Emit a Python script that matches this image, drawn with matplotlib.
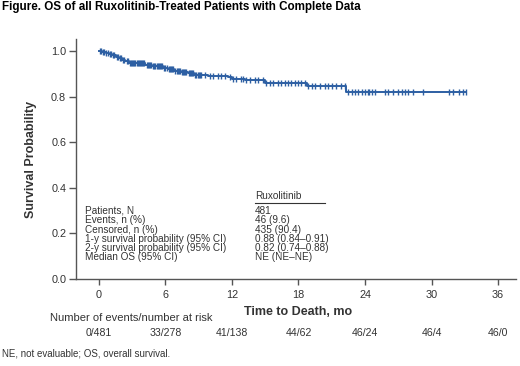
import numpy as np
import matplotlib
matplotlib.use('Agg')
from matplotlib import pyplot as plt
from matplotlib import transforms

plt.rcParams['font.family'] = ['Liberation Sans', 'DejaVu Sans']

# Kaplan-Meier curve (months, survival after each drop)
event_times = [0.3, 0.6, 0.9, 1.2, 1.5, 1.8, 2.1, 2.4, 2.7, 4.2, 4.8, 5.8, 6.2,
               6.8, 7.4, 8.0, 8.6, 9.8, 11.6, 12.0, 13.2, 15.0, 18.8, 22.3]
event_surv = [0.996, 0.992, 0.988, 0.981, 0.975, 0.969, 0.962, 0.955, 0.948,
              0.940, 0.933, 0.927, 0.920, 0.913, 0.907, 0.902, 0.897, 0.892,
              0.885, 0.878, 0.872, 0.860, 0.845, 0.822]
last_time = 33.1

censor_times = [0.1, 0.2, 0.35, 0.5, 0.65, 0.8, 1.0, 1.1, 1.3, 1.4, 1.6, 1.7,
                1.9, 2.0, 2.2, 2.3, 2.5, 2.6, 2.8, 2.9, 3.0, 3.1, 3.2, 3.3,
                3.4, 3.5, 3.6, 3.7, 3.8, 3.9, 4.0, 4.1, 4.3, 4.4, 4.5, 4.6,
                4.7, 4.9, 5.0, 5.1, 5.2, 5.3, 5.4, 5.5, 5.6, 5.7, 5.9, 6.0,
                6.1, 6.3, 6.4, 6.5, 6.6, 6.7, 6.9, 7.0, 7.1, 7.2, 7.3, 7.5,
                7.6, 7.7, 7.8, 7.9, 8.1, 8.2, 8.3, 8.4, 8.5, 8.7, 8.8, 8.9,
                9.0, 9.1, 9.25, 9.55, 10.0, 10.3, 10.75, 11.05, 11.35, 11.8,
                12.1, 12.4, 12.85, 13.0, 13.3, 13.6, 14.05, 14.35, 14.8, 15.1,
                15.4, 15.7, 16.15, 16.45, 16.75, 17.05, 17.35, 17.65, 17.95,
                18.25, 18.55, 18.9, 19.2, 19.5, 19.9, 20.4, 20.7, 21.0, 21.4,
                21.8, 22.2, 22.5, 22.8, 23.1, 23.4, 23.7, 24.0, 24.3, 24.4,
                24.6, 24.9, 25.8, 26.1, 26.5, 27.0, 27.3, 27.6, 27.9, 28.3,
                29.2, 31.6, 31.9, 32.5, 32.8, 33.1]

risk_months = [0, 6, 12, 18, 24, 30, 36]
risk_labels = ['0/481', '33/278', '41/138', '44/62', '46/24', '46/4', '46/0']

table_rows = ['Patients, N', 'Events, n (%)', 'Censored, n (%)',
              '1-y survival probability (95% CI)',
              '2-y survival probability (95% CI)', 'Median OS (95% CI)']
table_vals = ['481', '46 (9.6)', '435 (90.4)', '0.88 (0.84\u20130.91)',
              '0.82 (0.74\u20130.88)', 'NE (NE\u2013NE)']

blue = '#2d5fa3'
grey = '#555555'
txt = '#333333'

times = np.array([0] + event_times + [last_time])
levels = np.array([1.0] + event_surv + [event_surv[-1]])
idx = np.searchsorted(times, censor_times, side='right') - 1
censor_y = levels[np.clip(idx, 0, len(levels) - 1)]

fig = plt.figure(figsize=(5.2, 3.66), dpi=100)
ax = fig.add_axes([0.146, 0.2377, 0.846, 0.6557])

ax.step(times, levels, where='post', color=blue, lw=1.4)
ax.plot(censor_times, censor_y, ls='none', marker='|', ms=5, mew=1.0,
        color=blue)

ax.set_xlim(-2.07, 37.6)
ax.set_ylim(0, 1.053)
ax.set_xticks(risk_months)
ax.set_yticks([0.0, 0.2, 0.4, 0.6, 0.8, 1.0])
ax.set_yticklabels(['0.0', '0.2', '0.4', '0.6', '0.8', '1.0'])
for s in ['top', 'right']:
    ax.spines[s].set_visible(False)
for s in ['left', 'bottom']:
    ax.spines[s].set_color(grey)
    ax.spines[s].set_linewidth(1.0)
ax.tick_params(axis='both', colors=grey, labelcolor=txt, labelsize=7.8,
               direction='out', width=1.0)
ax.tick_params(axis='y', length=5, pad=2)
ax.tick_params(axis='x', length=4, pad=4)

ax.set_ylabel('Survival Probability', fontsize=9, fontweight='bold',
              color=txt, labelpad=10)

# summary table inside the plot
ax.text(0.407, 0.346, 'Ruxolitinib', transform=ax.transAxes, fontsize=7.2,
        color=txt, va='center')
ax.plot([0.407, 0.566], [0.317, 0.317], transform=ax.transAxes,
        color=txt, lw=0.8, clip_on=False)
row_y = [0.285, 0.246, 0.204, 0.165, 0.128, 0.090]
for lab, val, yy in zip(table_rows, table_vals, row_y):
    ax.text(0.0205, yy, lab, transform=ax.transAxes, fontsize=7.2,
            color=txt, va='center')
    ax.text(0.407, yy, val, transform=ax.transAxes, fontsize=7.2,
            color=txt, va='center')

fig.text(0.004, 0.997, 'Figure. OS of all Ruxolitinib-Treated Patients with Complete Data',
         fontsize=8.4, fontweight='bold', va='top', ha='left')
fig.text(298 / 520, 1 - 312 / 366, 'Time to Death, mo', fontsize=9,
         fontweight='bold', color=txt, ha='center', va='center')
fig.text(50 / 520, 1 - 318 / 366, 'Number of events/number at risk',
         fontsize=8, color=txt, ha='left', va='center')

trans = transforms.blended_transform_factory(ax.transData, fig.transFigure)
for m, lab in zip(risk_months, risk_labels):
    ax.text(m, 1 - 333 / 366, lab, transform=trans, fontsize=7.6,
            color=txt, ha='center', va='center')

fig.text(0.004, 1 - 354 / 366, 'NE, not evaluable; OS, overall survival.',
         fontsize=7, color=txt, ha='left', va='center')

fig.savefig('out.png', dpi=100)
